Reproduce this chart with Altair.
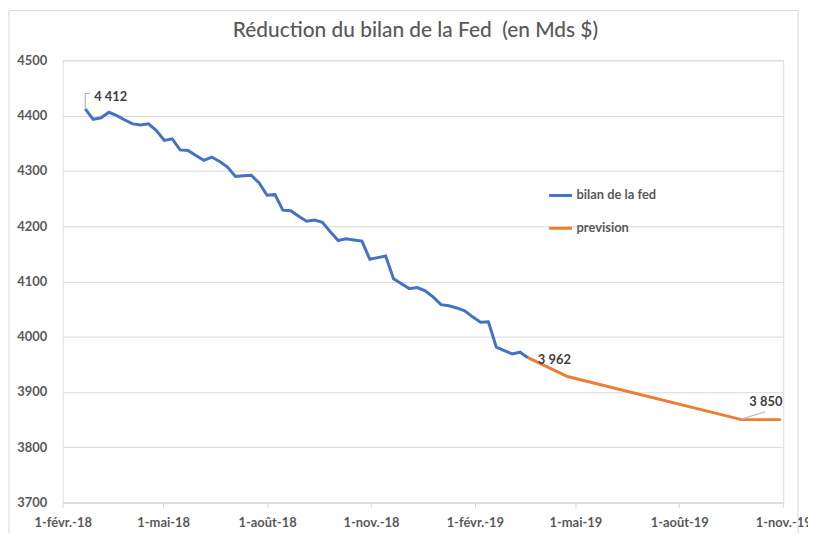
import json
import altair as alt
import pandas as pd

title_text = "Réduction du bilan de la Fed \u00a0(en Mds $)"
series_names = ["bilan de la fed", "prevision"]
series_colors = ["#4472C4", "#ED7D31"]

# weekly balance sheet (Wednesdays) from 2018-02-21
bilan_start = "2018-02-21"
bilan_values = [4412, 4393, 4396, 4406, 4400, 4392, 4385, 4383, 4385, 4373,
                4355, 4358, 4338, 4337, 4328, 4319, 4325, 4317, 4307, 4290,
                4291, 4292, 4278, 4256, 4257, 4229, 4228, 4218, 4209, 4211,
                4207, 4190, 4174, 4177, 4175, 4173, 4140, 4143, 4146, 4105,
                4096, 4087, 4089, 4083, 4072, 4058, 4056, 4052, 4047, 4036,
                4026, 4027, 3981, 3975, 3969, 3972, 3962]

prev_dates = ["2019-03-20", "2019-04-24", "2019-09-25", "2019-10-30"]
prev_values = [3962, 3928, 3850, 3850]

x_tick_dates = ["2018-02-01", "2018-05-01", "2018-08-01", "2018-11-01",
                "2019-02-01", "2019-05-01", "2019-08-01", "2019-11-01"]
x_domain = ["2018-02-01", "2019-11-01"]
y_ticks = [3700, 3800, 3900, 4000, 4100, 4200, 4300, 4400, 4500]
month_fr = ["janv.", "févr.", "mars", "avr.", "mai", "juin",
            "juil.", "août", "sept.", "oct.", "nov.", "déc."]

ann_dates = ["2018-02-21", "2019-03-20", "2019-09-25"]
ann_values = [4412, 3962, 3850]
ann_texts = ["4 412", "3 962", "3 850"]

# leader lines of the data labels
lead1_dates = ["2018-02-21", "2018-02-21", "2018-02-25"]
lead1_values = [4413, 4440, 4440]
lead2_dates = ["2019-09-25", "2019-10-16"]
lead2_values = [3851, 3864]


def ms(d):
    return int(pd.Timestamp(d, tz="UTC").timestamp() * 1000)


bilan_dates = pd.date_range(bilan_start, periods=len(bilan_values), freq="7D")
df = pd.concat([
    pd.DataFrame({"date": [d.strftime("%Y-%m-%d") for d in bilan_dates],
                  "value": bilan_values, "serie": series_names[0]}),
    pd.DataFrame({"date": prev_dates, "value": prev_values, "serie": series_names[1]}),
], ignore_index=True)

FONT = "Lato"
GREY = "#595959"

label_expr = ("utcdate(datum.value) + '-' + " + json.dumps(month_fr, ensure_ascii=False)
              + "[utcmonth(datum.value)] + '-' + utcFormat(datum.value, '%y')")

x_enc = alt.X("date:T", scale=alt.Scale(type="utc", domain=[ms(d) for d in x_domain]),
              axis=alt.Axis(values=[ms(d) for d in x_tick_dates], labelExpr=label_expr,
                            title=None, grid=False, domainColor="#d9d9d9",
                            tickColor="#d9d9d9", tickSize=5, labelPadding=9,
                            labelFont=FONT, labelFontSize=13, labelFontWeight="bold",
                            labelColor=GREY, labelFlush=False))
y_enc = alt.Y("value:Q", scale=alt.Scale(domain=[3700, 4500], nice=False, zero=False),
              axis=alt.Axis(values=y_ticks, format="d", title=None, ticks=False, domain=False,
                            gridColor="#d9d9d9", labelPadding=16, labelFont=FONT,
                            labelFontSize=13, labelFontWeight="bold", labelColor=GREY))

lines = alt.Chart(df).mark_line(strokeWidth=3).encode(
    x=x_enc, y=y_enc,
    color=alt.Color("serie:N", scale=alt.Scale(domain=series_names, range=series_colors),
                    legend=alt.Legend(title=None, orient="none", legendX=488, legendY=123,
                                      direction="vertical", symbolType="stroke",
                                      symbolSize=529, symbolStrokeWidth=3,
                                      labelFont=FONT, labelFontSize=13,
                                      labelFontWeight="bold", labelColor=GREY,
                                      rowPadding=13, labelOffset=3, padding=0)),
)

lead1 = alt.Chart(pd.DataFrame({"date": lead1_dates, "value": lead1_values,
                                "o": [0, 1, 2]})).mark_line(
    color="#a6a6a6", strokeWidth=1).encode(x="date:T", y="value:Q", order="o:Q")
lead2 = alt.Chart(pd.DataFrame({"date": lead2_dates, "value": lead2_values})).mark_line(
    color="#bfbfbf", strokeWidth=1.2).encode(x="date:T", y="value:Q")

ann_offsets = [(9, -12), (10, 2), (8, -18)]
texts = []
for d, v, t, (dx, dy) in zip(ann_dates, ann_values, ann_texts, ann_offsets):
    texts.append(alt.Chart(pd.DataFrame({"date": [d], "value": [v], "t": [t]})).mark_text(
        align="left", baseline="middle", dx=dx, dy=dy, font=FONT, fontSize=13,
        fontWeight="bold", color="#404040").encode(x="date:T", y="value:Q", text="t:N"))

dummy = pd.DataFrame({"a": [0]})
border = alt.Chart(dummy).mark_rect(
    fillOpacity=0, stroke="#d9d9d9", strokeWidth=1).encode(
    x=alt.value(-54), x2=alt.value(740), y=alt.value(-50), y2=alt.value(560))

title = alt.Chart(dummy).mark_text(
    align="center", baseline="middle", font=FONT, fontSize=21, fontWeight=500,
    color=GREY).encode(
    x=alt.value(355), y=alt.value(-29), text=alt.value(title_text))

chart = alt.layer(border, lines, lead1, lead2, title, *texts).properties(
    width=725, height=445,
    autosize=alt.AutoSizeParams(type="none"),
    padding={"left": 55, "top": 51, "right": 25, "bottom": 29},
).configure_view(stroke=None).configure(background="white")

chart.save("out.html", embed_options={"renderer": "svg", "actions": False})
